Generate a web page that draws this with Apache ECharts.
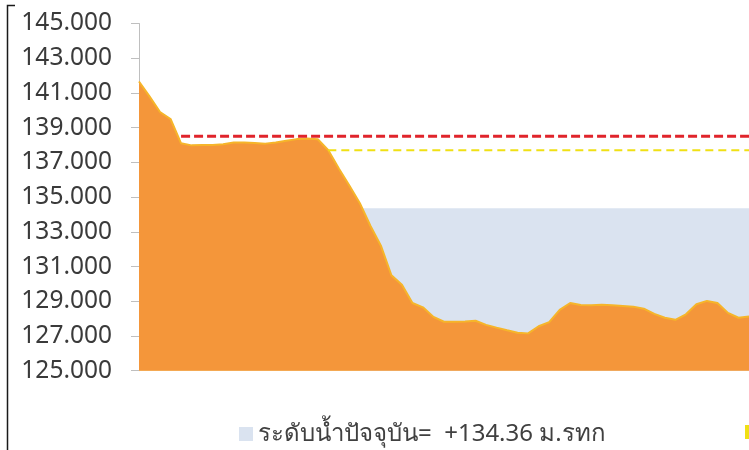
<!DOCTYPE html>
<html>
<head>
<meta charset="utf-8">
<script src="https://cdn.jsdelivr.net/npm/echarts@6/dist/echarts.min.js"></script>
<style>
  html, body { margin: 0; padding: 0; background: #fff; }
  #chart { width: 749px; height: 450px; }
</style>
</head>
<body>
<div id="chart"></div>
<script>
// Daily reservoir water level (m MSL)
const days = Array.from({ length: 59 }, (_, i) => String(i + 1));
const waterLevel = [
  141.66, 140.80, 139.90, 139.50, 138.10, 137.98, 138.00, 138.00, 138.05, 138.14,
  138.14, 138.12, 138.08, 138.15, 138.25, 138.34, 138.37, 138.33, 137.70, 136.65,
  135.67, 134.65, 133.35, 132.20, 130.50, 129.95, 128.90, 128.65, 128.10, 127.82,
  127.82, 127.84, 127.88, 127.64, 127.48, 127.33, 127.19, 127.15, 127.56, 127.80,
  128.50, 128.90, 128.78, 128.77, 128.80, 128.77, 128.73, 128.69, 128.57, 128.27,
  128.05, 127.93, 128.25, 128.83, 129.02, 128.90, 128.33, 128.05, 128.12
];
const currentLevel = 134.36;
const currentStart = 21;   // index where the current-level band begins
const maxLevel = 138.5;
const maxStart = 4;
const storageLevel = 137.7;
const storageStart = 18;
const yTicks = { min: 125, max: 145, step: 2 };

const fromIndex = (start, v) => days.map((_, i) => (i >= start ? v : '-'));
const currentName = 'ระดับน้ำปัจจุบัน=  +' + currentLevel.toFixed(2) + ' ม.รทก';

const chart = echarts.init(document.getElementById('chart'), null, { renderer: 'canvas' });
chart.setOption({
  animation: false,
  backgroundColor: '#ffffff',
  textStyle: { fontFamily: 'Noto Sans, sans-serif' },
  grid: { left: 139, right: 0, top: 23.5, bottom: 79.3, containLabel: false },
  legend: {
    data: [currentName],
    left: 234, top: 417,
    icon: 'rect', itemWidth: 14, itemHeight: 14, itemGap: 10,
    textStyle: { color: '#404040', fontSize: 24, fontFamily: 'Noto Sans, sans-serif' }
  },
  xAxis: {
    type: 'category',
    data: days,
    boundaryGap: false,
    axisLine: { show: true, lineStyle: { color: '#f6e0a0', width: 1 } },
    axisTick: { show: false },
    axisLabel: { show: false },
    splitLine: { show: false }
  },
  yAxis: {
    type: 'value',
    min: yTicks.min, max: yTicks.max, interval: yTicks.step,
    axisLine: { show: true, lineStyle: { color: '#bfbfbf', width: 1 } },
    axisTick: { show: true, length: 8, lineStyle: { color: '#bfbfbf' } },
    axisLabel: {
      margin: 27,
      color: '#3a3a3a',
      fontSize: 24.5,
      fontFamily: 'Noto Sans, sans-serif',
      formatter: v => v.toFixed(3)
    },
    splitLine: { show: false }
  },
  series: [
    {
      name: currentName,
      type: 'line',
      data: fromIndex(currentStart, currentLevel),
      symbol: 'none',
      lineStyle: { width: 0, color: '#dae3f0' },
      itemStyle: { color: '#dae3f0' },
      areaStyle: { color: '#dae3f0', opacity: 1, origin: 'start' },
      z: 1
    },
    {
      name: 'ระดับน้ำ',
      type: 'line',
      data: waterLevel,
      symbol: 'none',
      lineStyle: { color: '#f6b52a', width: 2 },
      itemStyle: { color: '#f4963a' },
      areaStyle: { color: '#f4963a', opacity: 1, origin: 'start' },
      z: 2
    },
    {
      name: 'ระดับน้ำสูงสุด',
      type: 'line',
      data: fromIndex(maxStart, maxLevel),
      symbol: 'none',
      lineStyle: { color: '#e0242b', width: 3, type: [9, 4] },
      itemStyle: { color: '#e0242b' },
      z: 3
    },
    {
      name: 'ระดับเก็บกัก',
      type: 'line',
      data: fromIndex(storageStart, storageLevel),
      symbol: 'none',
      lineStyle: { color: '#f0e014', width: 2, type: [8, 5] },
      itemStyle: { color: '#f0e014' },
      z: 3
    }
  ],
  graphic: [
    {
      type: 'polyline',
      shape: { points: [[15, 5.5], [7.5, 5.5], [7.5, 450]] },
      style: { stroke: '#1a1a1a', lineWidth: 1.5, fill: null },
      silent: true
    },
    {
      // legend key of the storage-level line, running off the right edge
      type: 'rect',
      shape: { x: 745, y: 425, width: 14, height: 14 },
      style: { fill: '#f0e014' },
      silent: true
    }
  ]
});
</script>
</body>
</html>
